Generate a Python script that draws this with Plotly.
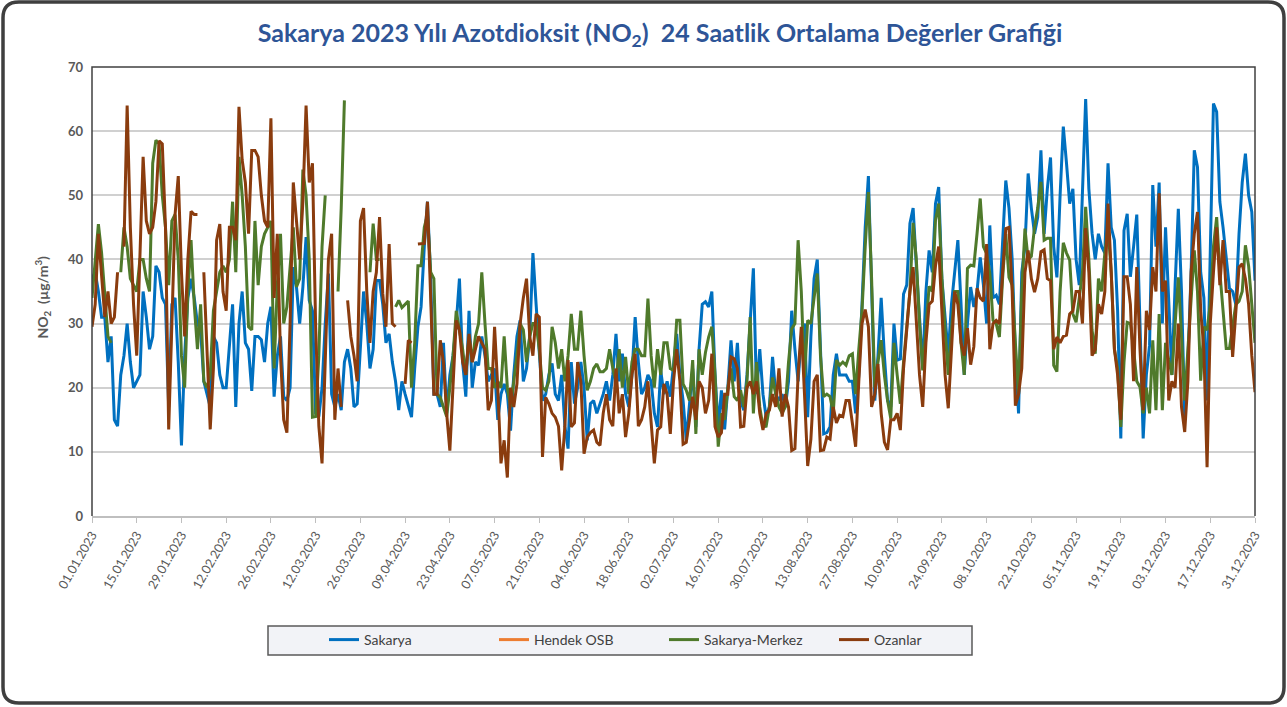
"""Sakarya 2023 NO2 daily averages line chart."""

import pandas as pd
import plotly.graph_objects as go

N = None

dates = pd.date_range("2023-01-01", "2023-12-31", freq="D")

# daily averages, ug/m3 (None = no measurement)
sakarya = [
    37, 38, 35, 31, 31, 24, 28, 15, 14, 22, 25, 30, 24, 20, 21, 22, 35, 31, 26, 28, 39, 38, 34, 33, 17,
    33, 34, 24, 11, 25, 34, 37, 34, 30, 29, 21, 19, 17, 28, 27, 22, 20, 20, 27, 33,
    17, 30, 35, 27, 26, 19.5, 28, 28, 27.5, 24, 30, 32.6, 18.6, 25, 28, 18.6, 18, 20, 38.8, 35.7, 30, 35.7,
    43.5, 33.6, 32, 16, 15.5, 20, 30, 37.8, 19, 17, 19, 16.5, 24, 26, 23, 17, 17.5, 27, 35, 30, 23, 26, 36.7,
    36.7, 33, 27, 28.4, 24, 21, 16.5, 21, 19, 17, 15.4, 23, 29.5, 32.6, 42, 49, 37, 19, 19, 17, 27, 16, 22,
    25, 30, 37, 24, 18.6, 32, 20, 24, 23.5, 28, 25, 21, 22, 23, 15, 19, 20.6, 19, 13.3, 22, 28, 30.5,
    21, 23, 28, 41, 33, 25, 18, 19, 22, 23.8, 19, 18, 22, 14, 10.5, 24, 17.5, 20, 24, 20, 11.8, 17.5, 18,
    16, 17.5, 19, 21, 18, 22, 28.4, 21, 25.3, 19, 17, 22, 31, 24, 19, 20, 22, 21, 16, 13.9, 22.7, 19,
    21, 18.6, 23, 28.4, 22, 18, 11.8, 17, 23, 13.9, 26, 33, 33.4, 32.6, 35, 22, 13.9, 19.6, 13.5, 20, 27.4,
    21, 27, 18, 16.5, 22, 30, 38.6, 19, 26, 19, 15.4, 17, 24.8, 19, 18, 19, 17, 21, 32, 26, 21, 28, 30, 15.4,
    28, 37, 40, 26, 12.8, 13, 13.9, 22, 25.3, 22, 22, 22, 21, 21, 16, 22, 33, 45, 53, 35, 18, 25, 34, 25,
    18, 17, 30, 24.3, 24.5, 34.6, 36, 45.6, 48, 39, 30, 23, 35, 41.4, 38, 48.7, 51.3, 37, 31, 25.3, 33,
    38, 43, 33, 22, 30, 35.7, 32.6, 35, 40.3, 36, 30, 45.3, 34, 34.4, 33, 42, 52.3, 48, 40, 25, 16, 38, 42,
    53.4, 48, 44, 46.6, 57, 44, 51, 55.9, 42, 37.2, 50, 60.7, 55, 48.7, 51, 40, 36, 50.4, 65, 51, 44.1, 40,
    44, 42, 41, 55, 45, 43, 32, 12.1, 44.5, 47.1, 37.3, 42, 47, 30, 12.1, 22, 26.6, 51.6, 42, 52, 30, 45,
    33, 22, 36, 47.9, 35, 15.4, 24, 38, 57, 54.4, 38, 34, 18, 40, 64.3, 63, 49, 45, 40, 35.5, 35, 33, 44,
    52, 56.5, 50, 47.4, 36.7,
]

sakarya_merkez = [
    34, 40, 45.5, 41, 35, 28, 27, N, N, 38, 45, 42, 37, 36, 35, 40, 40, 37, 35, 55, 58.6, 58, 50, 45, 36,
    46, 47, 40, 25, 20, 35, 43, 33, 26, 33, 21, 20, 22, 32, 35, 38, 39, 38, 40, 49,
    38, 56, 50, 42, 29.5, 29, 46, 36, 42, 44, 45, 46, 23, 36, 44, 30, 32.6, 39, 45, 35.7, 37, 54, 50, 40,
    15.4, 15.5, 25, 42, 50, N, N, N, 35, 48, 64.8, N, N, N, N, N, N, N, 38, 45.6, 40,
    40, N, N, N, N, 32.6, 33.6, 32.5, 33, 33.5, 20, 27, 39, 39, 45, 47, 38, 37, 19, 18.5, 17, 15.5, 20, 25,
    32, 29, 26, 22, 28, 24, 28, 30, 38, 30, 23, 23, 20, 21, 20, 28, 20, 17, 21, 25, 30,
    29, 24, 28, 30, 30, 26, 20, 19.6, 21, 29.5, 27, 23, 26, 21, 25, 31.5, 26, 26, 32, 25, 19.6, 21, 23,
    23.7, 22.5, 22.5, 23, 26, 23, 21, 26, 20, 24.8, 19, 24, 26, 26, 25, 25, 33.9, 25, 20, 26, 22, 27,
    27, 23, 22.7, 30.5, 30.5, 20.6, 19.6, 18, 24.3, 12.8, 26, 22, 25.5, 27.9, 29.5, 22, 10.8, 16, 15, 20,
    23, 18.6, 18, 19.6, 17, 21, 31, 16, 24, 17, 13.9, 14, 17, 21.6, 19, 17, 16, 17, 24, 29.2, 30, 43, 35,
    21.6, 30.5,
    30, 34, 37.8, 25, 18.6, 19, 18.6, 16, 24.3, 23.5, 24, 23.5, 25, 25.3, 19, 26, 32, 42, 50.5, 37, 20, 24,
    27.4, 22, 18, 15.2, 27, 22, 17.5, 24, 29, 35, 45.7, 40, 30, 22.7, 29, 35.8, 35, 46.1, 48.7, 37, 29, 22, 29,
    35, 35, 27, 22, 38.6, 39.1, 39, 44, 49.5, 42, 40.9, 37.8, 30.5, 30, 27.9, 37, 44, 37.2, 36, 27, 19, 35,
    44.8, 40, 40.5, 45, 48, 52.1, 43, 43.3, 43.3, 23.5, 22.5, 35, 42.6, 41, 39.9, 31.5, 30.2, 34, 38, 48.2,
    40, 29, 25.3,
    37, 35, 41, 45, 38, 26, 23, 13.9, 24, 30.2, 30, 26, 21, 20.1, 16, 20, 16, 27.4, 16.5, 31.5, 16.5, 27,
    24.3, 22, 30, 37.2, 28, 18, 26, 33, 41.4, 35, 21.1, 29.5, 29, 33, 42, 46.6, 38, 32, 26.1, 26.1, 30, 33,
    33.5, 35, 42.2, 39, 33, 27,
]

ozanlar = [
    29.5, 33, 44, 38, 31, 35, 30, 31, 38, N, 42, 64, 45, 33, 25, 40, 56, 46, 44, 45, 49, 58.5, 58, 45, 13.5,
    30, 47, 53, 38, 28, 40, 47.5, 47, 47, N, 38, 25, 13.5, 23, 43, 45.5, 35, 32, 45, 45,
    43, 63.8, 55.5, 52, 44, 57, 57, 56, 50, 46, 45, 62, 34, 44, 25, 15, 13, 30, 52, 46, 40, 49, 64, 52, 55,
    29.5, 14, 8.2, 24, 40, 44, 15, 23, 17, N, 33.6, 28, 25, 21, 46, 48, 35, 27, 35, 38,
    46.6, 34.7, 29.5, 42.4, 30, 29.5, N, N, 20.6, 27.4, 27, N, 42.4, 42.5, 42.5, 49, 35, 19, 19, 27.4, 24,
    16, 10.2, 20, 30.5, 29, 24, 22, 28.4, 24, 26, 28, 27, 26, 16.5, 18, 29.5, 20, 8.2, 11.8, 6, 20, 17,
    20.6, 30,
    34, 37, 28, 25, 31.5, 31, 9.2, 18.5, 17.5, 16, 15.4, 14, 7.1, 14, 24.3, 13.9, 14.5, 24, 21, 9.7, 12.3,
    13, 13.4, 11.5, 11, 16, 19, 15, 14, 23, 16, 19, 12.3, 16, 22, 25.3, 14, 15, 17, 21, 14, 8.2, 13.4, 13.9,
    20.6,
    19, 12.8, 21, 26, 21, 11.2, 11.5, 15, 18.6, 15, 21, 20, 16, 18, 25.3, 13.9, 12.3, 13, 19, 19, 24.8, 24.5,
    23, 13.9, 14, 20, 21, 19, 21, 16, 13.4, 16, 16.5, 19, 17, 23, 15.5, 19, 17, 10.2, 10.5, 22, 29.5, 19, 7.8,
    12, 21, 22, 10.2, 10.3, 12.3, 12, 17, 14.5, 15.7, 15.5, 18, 18, 14, 10.8, 21, 30, 32.2, 29.5, 17, 19,
    23.7, 16, 11.5, 10.3, 15, 15, 16, 13.4, 23, 29.5, 35, 38.8, 30, 22, 17, 27, 33, 33.5, 39, 42, 32, 22,
    16.8, 27,
    35, 33, 27, 25, 29.3, 23.6, 26.4, 35.5, 34, 33.5, 42.4, 26, 30, 30.5, 30, 38, 44.8, 45, 35, 17.2, 19,
    23, 38, 41.4, 37, 34.9, 37, 41.2, 41.5, 37, 36.7, 26, 27.9, 27, 28, 28.2, 31.5, 32, 35, 35, 30, 44.9,
    38, 25, 26,
    33, 31.5, 35, 48.7, 38, 26, 22, 15, 37.3, 37.3, 33, 21, 38.8, 26, 16.5, 32, 29, 38.8, 35, 50.3, 35,
    36.7, 18, 21, 20, 30, 17, 13.1, 21, 38, 44, 47.4, 32, 26, 7.6, 30, 38, 45, 36, 43, 35, 35, 24.8, 32,
    38.8, 39.3, 37, 33, 25, 19.3,
]

# Hendek OSB has no data for 2023 (legend entry only)
hendek_osb = [N] * len(dates)

tick_dates = dates[::14]
tick_text = [d.strftime("%d.%m.%Y") for d in tick_dates]

COLORS = {
    "Sakarya": "#0070C0",
    "Hendek OSB": "#ED7D31",
    "Sakarya-Merkez": "#4F7A2B",
    "Ozanlar": "#8A3C0E",
}
FONT = "Lato, Arial, sans-serif"

# plot area in pixels
L, R, T, B = 92, 1255, 67, 516
W, H = 1287, 707


def px(x):
    return (x - L) / (R - L)


def py(y):
    return (B - y) / (B - T)


fig = go.Figure()
for name, values in [("Sakarya", sakarya), ("Hendek OSB", hendek_osb),
                     ("Sakarya-Merkez", sakarya_merkez), ("Ozanlar", ozanlar)]:
    fig.add_trace(go.Scatter(
        x=dates, y=values, name=name, mode="lines",
        line=dict(color=COLORS[name], width=3),
        connectgaps=False,
    ))

# outer rounded frame
x0, y0, x1, y1, r = 3, 2, 1284, 703, 16
frame = (f"M {px(x0 + r)},{py(y0)} L {px(x1 - r)},{py(y0)} Q {px(x1)},{py(y0)} {px(x1)},{py(y0 + r)} "
         f"L {px(x1)},{py(y1 - r)} Q {px(x1)},{py(y1)} {px(x1 - r)},{py(y1)} "
         f"L {px(x0 + r)},{py(y1)} Q {px(x0)},{py(y1)} {px(x0)},{py(y1 - r)} "
         f"L {px(x0)},{py(y0 + r)} Q {px(x0)},{py(y0)} {px(x0 + r)},{py(y0)} Z")
fig.add_shape(type="path", path=frame, xref="paper", yref="paper",
              line=dict(color="#3F3F3F", width=3.5), layer="below")
# plot frame (left, top, right)
fig.add_shape(type="path", path="M 0,0 L 0,1 L 1,1 L 1,0", xref="paper", yref="paper",
              line=dict(color="#404040", width=1.5))
# legend box
fig.add_shape(type="rect", xref="paper", yref="paper",
              x0=px(268), x1=px(972), y0=py(626), y1=py(655),
              fillcolor="#F2F3F7", line=dict(color="#595959", width=1.5), layer="below")

fig.add_annotation(
    text="NO<sub>2</sub>  (µg/m<sup>3</sup>)", textangle=-90,
    xref="paper", yref="paper", x=px(30), y=py(297), showarrow=False,
    font=dict(family=FONT, size=14, color="#595959", weight="bold"),
)

fig.update_layout(
    width=W, height=H,
    margin=dict(l=L, r=W - R, t=T, b=H - B),
    paper_bgcolor="white", plot_bgcolor="white",
    title=dict(
        text="Sakarya 2023 Yılı Azotdioksit (NO<sub>2</sub>)  24 Saatlik Ortalama Değerler Grafiği",
        x=660 / W, xanchor="center", xref="container",
        y=1 - 33 / H, yanchor="middle", yref="container",
        font=dict(family=FONT, size=25, color="#2E5597", weight="bold"),
    ),
    xaxis=dict(
        range=[dates[0], dates[-1]],
        tickmode="array", tickvals=tick_dates, ticktext=tick_text,
        tickangle=-60, tickfont=dict(family=FONT, size=12.5, color="#595959"),
        ticks="outside", ticklen=5, tickcolor="#BFBFBF",
        showline=True, linecolor="#BFBFBF", linewidth=1.5,
        showgrid=False, zeroline=False,
    ),
    yaxis=dict(
        range=[0, 70], dtick=10,
        tickfont=dict(family=FONT, size=13, color="#595959", weight="bold"),
        showgrid=True, gridcolor="#D0D0D0", gridwidth=1.5,
        zeroline=False, showline=False, ticks="", ticklabelstandoff=8,
    ),
    showlegend=True,
    legend=dict(
        orientation="h", xref="paper", yref="paper",
        x=px(324), y=py(640), xanchor="left", yanchor="middle",
        bgcolor="rgba(0,0,0,0)", borderwidth=0,
        font=dict(family=FONT, size=14, color="#404040"),
        entrywidth=125, entrywidthmode="pixels",
        itemwidth=30,
    ),
)

fig.write_html(
    "out.html",
    config={"displayModeBar": False},
    post_script="document.body.style.margin='0';document.body.style.overflow='hidden';",
)
